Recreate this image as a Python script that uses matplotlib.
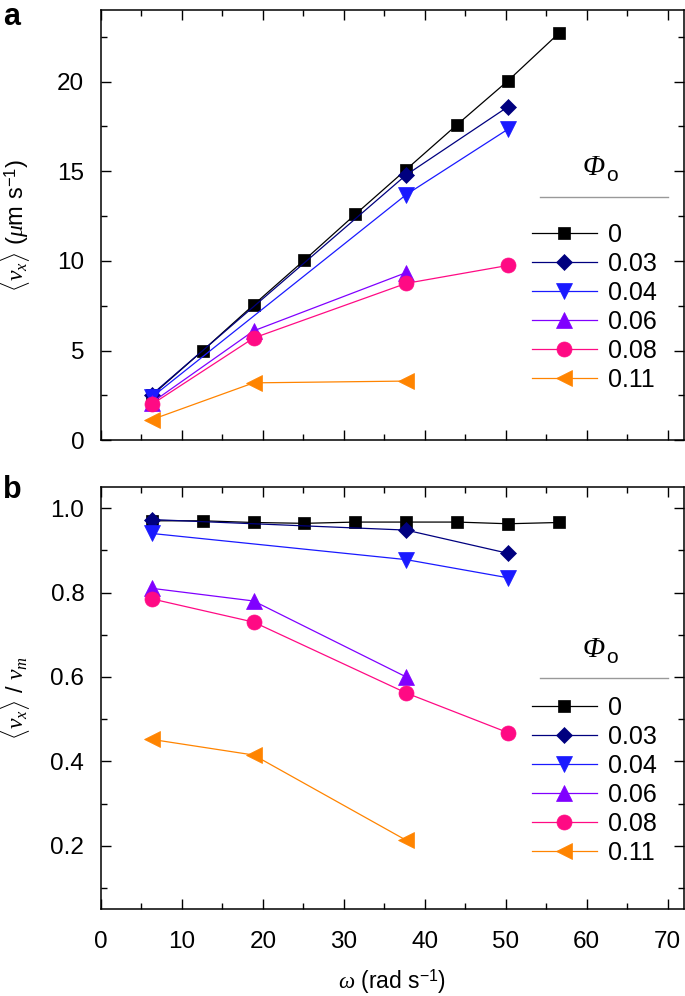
import matplotlib
matplotlib.use("Agg")
import matplotlib.pyplot as plt
from matplotlib.lines import Line2D
from matplotlib.ticker import MultipleLocator, FormatStrFormatter

plt.rcParams['font.family'] = ['Liberation Sans', 'DejaVu Sans']
plt.rcParams['mathtext.fontset'] = 'custom'
plt.rcParams['mathtext.rm'] = 'Liberation Sans'
plt.rcParams['mathtext.sf'] = 'Liberation Sans'
plt.rcParams['mathtext.it'] = 'Liberation Serif:italic'
plt.rcParams['mathtext.bf'] = 'Liberation Sans:bold'

# ---------------- data ----------------
phi_labels = ['0', '0.03', '0.04', '0.06', '0.08', '0.11']
colors = ['#000000', '#00007f', '#1a1aff', '#8000ff', '#ff0a84', '#ff8400']
markers = ['s', 'D', 'v', '^', 'o', '<']
msizes = [9.2, 8.5, 11.5, 11, 10.8, 11.5]

omega_phi0 = [6.28, 12.57, 18.85, 25.13, 31.42, 37.70, 43.98, 50.27, 56.55]
omega_phi003 = [6.28, 37.70, 50.27]
omega_phi004 = [6.28, 37.70, 50.27]
omega_phi006 = [6.28, 18.85, 37.70]
omega_phi008 = [6.28, 18.85, 37.70, 50.27]
omega_phi011 = [6.28, 18.85, 37.70]

vx_phi0 = [2.5, 5.0, 7.55, 10.05, 12.6, 15.1, 17.6, 20.05, 22.7]
vx_phi003 = [2.55, 14.8, 18.6]
vx_phi004 = [2.4, 13.7, 17.35]
vx_phi006 = [2.1, 6.1, 9.35]
vx_phi008 = [2.0, 5.7, 8.75, 9.75]
vx_phi011 = [1.15, 3.2, 3.3]

ratio_phi0 = [0.97, 0.97, 0.966, 0.964, 0.967, 0.967, 0.967, 0.963, 0.966]
ratio_phi003 = [0.973, 0.948, 0.893]
ratio_phi004 = [0.94, 0.878, 0.835]
ratio_phi006 = [0.81, 0.78, 0.60]
ratio_phi008 = [0.785, 0.73, 0.562, 0.468]
ratio_phi011 = [0.452, 0.415, 0.213]

omegas = [omega_phi0, omega_phi003, omega_phi004, omega_phi006, omega_phi008, omega_phi011]
vxs = [vx_phi0, vx_phi003, vx_phi004, vx_phi006, vx_phi008, vx_phi011]
ratios = [ratio_phi0, ratio_phi003, ratio_phi004, ratio_phi006, ratio_phi008, ratio_phi011]

# ---------------- figure ----------------
fig = plt.figure(figsize=(6.85, 9.96), dpi=100)
ax1 = fig.add_axes([0.1474, 0.558, 0.851, 0.432])
ax2 = fig.add_axes([0.1474, 0.0873, 0.851, 0.4237])

FS = 17.5
LFS = 18

def style(ax):
    for s in ax.spines.values():
        s.set_linewidth(1.1)
    ax.tick_params(which='both', direction='in', top=True, right=True,
                   labelsize=FS, width=1.0)
    ax.tick_params(axis='y', pad=12)
    ax.tick_params(axis='x', pad=16)
    ax.tick_params(which='major', length=7)
    ax.tick_params(which='minor', length=4)
    ax.xaxis.set_major_locator(MultipleLocator(10))
    ax.xaxis.set_minor_locator(MultipleLocator(5))
    ax.set_xlim(0, 72)

def draw(ax, ys):
    handles = []
    for x, y, c, m, ms, lab in zip(omegas, ys, colors, markers, msizes, phi_labels):
        h, = ax.plot(x, y, color=c, marker=m, ms=ms, lw=0.9, mec=c, mew=0.5, label=lab)
        handles.append(h)
    return handles

def legend(ax, handles, title_y, line_y, top_y):
    ax.legend(handles=handles, loc='upper left', bbox_to_anchor=(0.739, top_y),
              frameon=False, fontsize=LFS, handlelength=2.6, handletextpad=0.45,
              labelspacing=0.2, borderpad=0, borderaxespad=0)
    t = ax.text(0.845, title_y, 'Φ', transform=ax.transAxes, ha='center', va='center',
                fontsize=LFS + 3, fontstyle='italic', family='Liberation Serif')
    ax.annotate('o', xy=(1.0, 0.0), xycoords=t, xytext=(1, -3), textcoords='offset points',
                ha='left', va='bottom', fontsize=LFS - 3)
    ax.add_line(Line2D([0.753, 0.973], [line_y, line_y], transform=ax.transAxes,
                       color='#999999', lw=1.0))

style(ax1)
h1 = draw(ax1, vxs)
ax1.set_ylim(0, 24)
ax1.yaxis.set_major_locator(MultipleLocator(5))
ax1.yaxis.set_minor_locator(MultipleLocator(2.5))
ax1.tick_params(axis='x', labelbottom=False)
ax1.set_ylabel(r'$\langle v_x \rangle$ ($\mathit{\mu}$m s$^{-1}$)', fontsize=17)
ax1.yaxis.set_label_coords(-0.118, 0.5)
legend(ax1, h1, 0.633, 0.565, 0.505)

style(ax2)
h2 = draw(ax2, ratios)
ax2.set_ylim(0.05, 1.05)
ax2.yaxis.set_major_locator(MultipleLocator(0.2))
ax2.yaxis.set_minor_locator(MultipleLocator(0.1))
ax2.yaxis.set_major_formatter(FormatStrFormatter('%.1f'))
ax2.set_ylabel(r'$\langle v_x \rangle$ / $v_m$', fontsize=17)
ax2.yaxis.set_label_coords(-0.118, 0.5)
ax2.set_xlabel(r'$\mathit{\omega}$ (rad s$^{-1}$)', fontsize=16.5, labelpad=10)
legend(ax2, h2, 0.614, 0.547, 0.505)

fig.text(0.004, 0.998, 'a', fontsize=22, fontweight='bold', va='top', ha='left')
fig.text(0.004, 0.523, 'b', fontsize=22, fontweight='bold', va='top', ha='left')

fig.savefig('out.png', dpi=100)
